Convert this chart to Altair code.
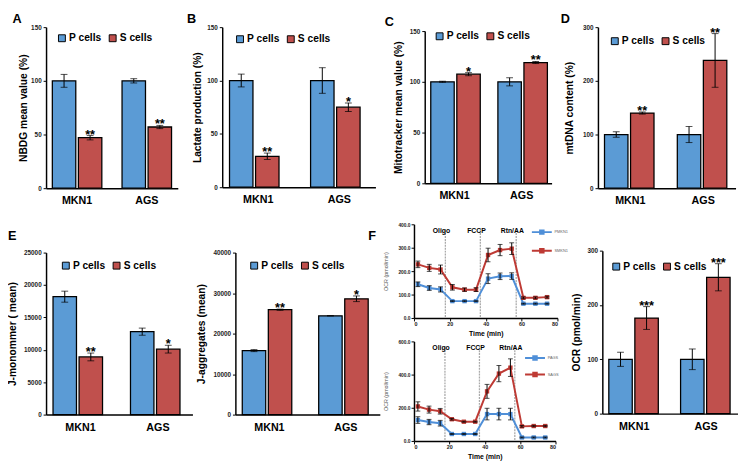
import altair as alt
import pandas as pd

FONT = "Liberation Sans"
CELL_LINES = ["MKN1", "AGS"]
GROUPS = ["P cells", "S cells"]
BLUE = "#5B9BD5"
RED = "#C0504D"
LBLUE = "#4F8FD8"
LRED = "#BE3A34"

# order of every bar array: MKN1-P, MKN1-S, AGS-P, AGS-S
NBDG_VALUES = [100, 47, 100, 57]
NBDG_ERRORS = [6, 2, 2, 1.5]
NBDG_STARS = ["", "**", "", "**"]
LACTATE_VALUES = [100, 29, 100, 75]
LACTATE_ERRORS = [6, 3, 12, 4]
LACTATE_STARS = ["", "**", "", "*"]
MITO_VALUES = [100, 107.5, 100, 119]
MITO_ERRORS = [0.5, 1.5, 4, 1]
MITO_STARS = ["", "*", "", "**"]
MTDNA_VALUES = [100, 140, 100, 238]
MTDNA_ERRORS = [5, 2, 15, 50]
MTDNA_STARS = ["", "**", "", "**"]
JMONO_VALUES = [18200, 8900, 12800, 10100]
JMONO_ERRORS = [850, 600, 550, 600]
JMONO_STARS = ["", "**", "", "*"]
JAGG_VALUES = [15800, 25900, 24400, 28600]
JAGG_ERRORS = [250, 150, 0, 700]
JAGG_STARS = ["", "**", "", "*"]
OCR_VALUES = [100, 176, 100, 251]
OCR_ERRORS = [13, 21, 19, 25]
OCR_STARS = ["", "***", "", "***"]

# Seahorse OCR traces
TIME = [2.2, 8.5, 14.8, 21.4, 28.2, 34.6, 41.3, 48.0, 54.5, 61.0, 67.7, 74.2]
MKN1_P_OCR = [144, 128, 122, 72, 72, 72, 168, 178, 179, 61, 61, 61]
MKN1_P_ERR = [10, 10, 11, 2, 2, 2, 21, 14, 14, 2, 2, 2]
MKN1_S_OCR = [229, 214, 207, 131, 121, 121, 269, 290, 296, 86, 86, 89]
MKN1_S_ERR = [14, 15, 19, 12, 7, 8, 29, 24, 25, 4, 4, 4]
AGS_P_OCR = [126, 114, 107, 42, 42, 42, 162, 162, 162, 21, 21, 21]
AGS_P_ERR = [20, 16, 17, 3, 3, 3, 35, 35, 35, 3, 3, 3]
AGS_S_OCR = [208, 189, 179, 131, 116, 116, 299, 406, 442, 88, 90, 90]
AGS_S_ERR = [28, 21, 17, 5, 3, 3, 42, 49, 53, 5, 4, 4]
EVENT_TIMES = [17.5, 37.0, 57.0]
EVENT_LABELS = ["Oligo", "FCCP", "Rtn/AA"]

LINE_LEGEND_SYMBOL = "M-3.4,0H3.4M-0.6,-0.6H0.6V0.6H-0.6Z"


def bar_panel(values, errors, stars, ytitle, ymax, ystep, width, height, top,
              title_d, legend_x, legend_y, title=None):
    df = pd.DataFrame({
        "line": [c for c in CELL_LINES for _ in GROUPS],
        "group": GROUPS * len(CELL_LINES),
        "value": values,
        "err": errors,
        "star": stars,
    })
    df["lo"] = df["value"] - df["err"]
    df["hi"] = df["value"] + df["err"]
    x = alt.X("line:N", sort=CELL_LINES, title=None,
              scale=alt.Scale(paddingInner=0.29, paddingOuter=0.09),
              axis=alt.Axis(labelAngle=0, ticks=False, domainColor="black",
                            domainWidth=1.5, labelFontSize=11,
                            labelFontWeight="bold", labelColor="black",
                            labelPadding=7))
    xo = alt.XOffset("group:N", sort=GROUPS, scale=alt.Scale(paddingInner=0.1))
    yscale = alt.Scale(domain=[0, ymax], range=[height, top], nice=False)
    yaxis = alt.Axis(values=list(range(0, ymax + 1, ystep)), format="d",
                     title=ytitle, titleX=-title_d, titleFontSize=10.5,
                     titleFontWeight="bold", titleColor="black",
                     labelFontSize=6.5, labelFontWeight="bold", labelColor="#222",
                     domainColor="black", domainWidth=1.5, tickColor="black",
                     tickSize=3, labelPadding=2, grid=False)
    base = alt.Chart(df)
    bars = base.mark_bar(stroke="black", strokeWidth=1.3).encode(
        x=x, xOffset=xo,
        y=alt.Y("value:Q", scale=yscale, axis=yaxis),
        color=alt.Color("group:N", sort=GROUPS,
                        scale=alt.Scale(domain=GROUPS, range=[BLUE, RED]),
                        legend=alt.Legend(title=None, orient="none",
                                          legendX=legend_x, legendY=legend_y,
                                          direction="horizontal",
                                          symbolType="square", symbolSize=50,
                                          symbolStrokeColor="black",
                                          symbolStrokeWidth=1,
                                          labelFontSize=10.5,
                                          labelFontWeight="bold",
                                          labelColor="black",
                                          columnPadding=5, labelOffset=2)),
    )
    rules = base.mark_rule(color="black", strokeWidth=1).encode(
        x=x, xOffset=xo,
        y=alt.Y("lo:Q", scale=yscale, axis=yaxis), y2="hi:Q")
    cap_lo = base.mark_tick(color="black", thickness=1, size=7).encode(
        x=x, xOffset=xo, y=alt.Y("lo:Q", scale=yscale, axis=yaxis))
    cap_hi = base.mark_tick(color="black", thickness=1, size=7).encode(
        x=x, xOffset=xo, y=alt.Y("hi:Q", scale=yscale, axis=yaxis))
    txt = base.mark_text(fontSize=13, fontWeight="bold", baseline="alphabetic",
                         dy=3, color="black").encode(
        x=x, xOffset=xo, y=alt.Y("hi:Q", scale=yscale, axis=yaxis),
        text="star:N")
    layered = alt.layer(bars, rules, cap_lo, cap_hi, txt).properties(
        width=width, height=height)
    if title is not None:
        layered = layered.properties(title=title)
    return layered


def line_panel(p_vals, p_errs, s_vals, s_errs, names, ymax, ystep, width, height,
               legend_x, legend_y, legend_gap):
    n = len(TIME)
    df = pd.DataFrame({
        "time": TIME * 2,
        "sample": [names[0]] * n + [names[1]] * n,
        "ocr": p_vals + s_vals,
        "err": p_errs + s_errs,
    })
    df["lo"] = df["ocr"] - df["err"]
    df["hi"] = df["ocr"] + df["err"]
    ev = pd.DataFrame({"time": EVENT_TIMES, "label": EVENT_LABELS})
    x = alt.X("time:Q", scale=alt.Scale(domain=[0, 80], nice=False),
              axis=alt.Axis(values=[0, 20, 40, 60, 80], title="Time (min)",
                            titleFontSize=7, titleFontWeight="bold",
                            titleColor="black", titlePadding=2,
                            labelFontSize=5.5, labelFontWeight="bold",
                            labelColor="#222", domainColor="black",
                            domainWidth=1.5, tickColor="black", tickSize=3,
                            labelPadding=1, grid=False))
    yscale = alt.Scale(domain=[0, ymax], nice=False)
    yaxis = alt.Axis(values=list(range(0, ymax + 1, ystep)), format=".1f",
                     title="OCR (pmol/min)", titleFontSize=5.5,
                     titleFontWeight="normal", titleColor="#555",
                     titleX=-26,
                     labelFontSize=5, labelFontWeight="bold", labelColor="#222",
                     domainColor="black", domainWidth=1.5, tickColor="black",
                     tickSize=3, labelPadding=1, grid=False)
    base = alt.Chart(df)
    lines = base.mark_line(strokeWidth=2, point=alt.OverlayMarkDef(
        shape="square", size=20, filled=True)).encode(
        x=x, y=alt.Y("ocr:Q", scale=yscale, axis=yaxis),
        color=alt.Color("sample:N", sort=names,
                        scale=alt.Scale(domain=names, range=[LBLUE, LRED]),
                        legend=alt.Legend(title=None, orient="none",
                                          legendX=legend_x, legendY=legend_y,
                                          symbolType=LINE_LEGEND_SYMBOL,
                                          symbolStrokeWidth=2, symbolSize=36,
                                          labelFontSize=4, labelColor="#666",
                                          rowPadding=legend_gap,
                                          labelOffset=9)))
    rules = base.mark_rule(color="black", strokeWidth=1).encode(
        x=x, y=alt.Y("lo:Q", scale=yscale, axis=yaxis), y2="hi:Q")
    cap_lo = base.mark_tick(color="black", thickness=1, size=5,
                            orient="horizontal").encode(
        x=x, y=alt.Y("lo:Q", scale=yscale, axis=yaxis))
    cap_hi = base.mark_tick(color="black", thickness=1, size=5,
                            orient="horizontal").encode(
        x=x, y=alt.Y("hi:Q", scale=yscale, axis=yaxis))
    evb = alt.Chart(ev)
    ev_rules = evb.mark_rule(color="#aaaaaa", strokeWidth=1.3,
                             strokeDash=[2, 1]).encode(
        x=x, y=alt.value(6), y2=alt.value(height))
    ev_text = evb.mark_text(fontSize=7, fontWeight="bold", dx=-4,
                            color="black").encode(
        x=x, y=alt.value(7), text="label:N")
    return alt.layer(ev_rules, lines, rules, cap_lo, cap_hi, ev_text).properties(
        width=width, height=height)


def ptitle(t, anchor="start", dx=0, dy=0, frame="bounds", offset=-2):
    return alt.TitleParams(text=t, anchor=anchor, frame=frame, fontSize=13,
                           fontWeight="bold", color="black", offset=offset,
                           dx=dx, dy=dy)


pa = bar_panel(NBDG_VALUES, NBDG_ERRORS, NBDG_STARS, "NBDG mean value (%)",
               150, 50, 135, 165, 0, 18, 11, 6, ptitle("A", dx=-6.5))
pb = bar_panel(LACTATE_VALUES, LACTATE_ERRORS, LACTATE_STARS,
               "Lactate production (%)", 150, 50, 157, 164, 0, 20, 13, 7,
               ptitle("B", dx=-6))
pc = bar_panel(MITO_VALUES, MITO_ERRORS, MITO_STARS,
               "Mitotracker mean value (%)", 150, 50, 130, 160, 4, 22, 10, 4,
               ptitle("C", dx=-9))
pd_ = bar_panel(MTDNA_VALUES, MTDNA_ERRORS, MTDNA_STARS, "mtDNA content (%)",
                300, 100, 141, 165, 0, 24, 12, 9, ptitle("D", dx=-4))

pe1 = bar_panel(JMONO_VALUES, JMONO_ERRORS, JMONO_STARS, "J-monommer ( mean)",
                25000, 5000, 150, 195, 29, 29, 15, 37,
                ptitle("E", dy=19, offset=0))
pe2 = bar_panel(JAGG_VALUES, JAGG_ERRORS, JAGG_STARS, "J-aggregates (mean)",
                40000, 10000, 148, 195, 29, 30, 14, 37,
                ptitle("F", anchor="end", frame="group", dx=-4, dy=19,
                       offset=0))
fl1 = line_panel(MKN1_P_OCR, MKN1_P_ERR, MKN1_S_OCR, MKN1_S_ERR,
                 ["PMKN1", "SMKN1"], 400, 100, 147, 96, 127, 4, 7)
fl2 = line_panel(AGS_P_OCR, AGS_P_ERR, AGS_S_OCR, AGS_S_ERR,
                 ["PAGS", "SAGS"], 600, 200, 145, 102, 120, 13, 5)
pf = bar_panel(OCR_VALUES, OCR_ERRORS, OCR_STARS, "OCR (pmol/min)",
               300, 100, 139, 194, 27, 21, 9, 38)

top_row = alt.hconcat(pa, pb, pc, pd_, spacing=9.5).resolve_scale(
    color="independent")
fcol = alt.vconcat(fl1, fl2, spacing=3).resolve_scale(color="independent")
bottom_row = alt.hconcat(pe1, pe2, fcol, pf, spacing=4).resolve_scale(
    color="independent")

chart = alt.vconcat(top_row, bottom_row, spacing=17, padding=0).resolve_scale(
    color="independent").configure(font=FONT).configure_view(
    stroke=None).configure_axis(grid=False)

chart.save("out.html", embed_options={"renderer": "svg", "actions": False})
